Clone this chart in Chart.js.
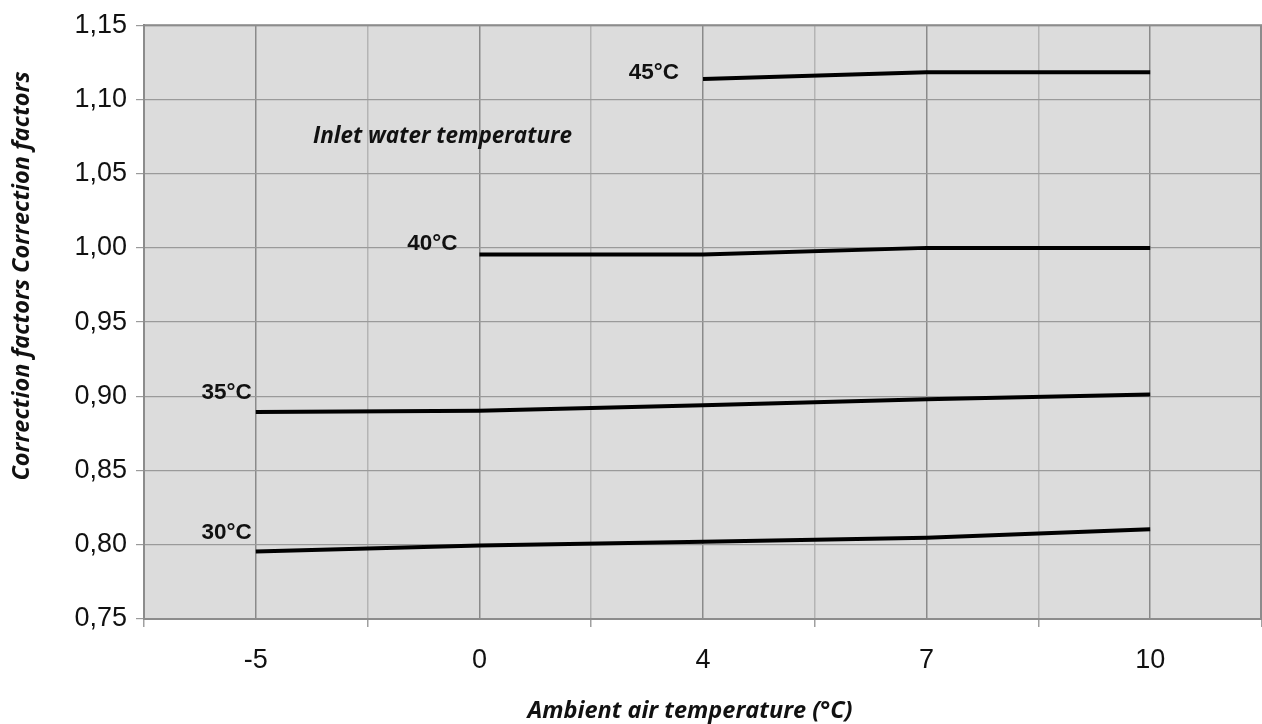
<!DOCTYPE html>
<html>
<head>
<meta charset="utf-8">
<script src="https://cdn.jsdelivr.net/npm/chart.js@4"></script>
<style>
html,body{margin:0;padding:0;background:#fff;overflow:hidden;}
#wrap{width:1262px;height:724px;position:relative;}
canvas{display:block;}
</style>
</head>
<body>
<div id="wrap"><canvas id="c"></canvas></div>
<script>
// ---- data ----
const categories = ['-5', '0', '4', '7', '10'];
const series30 = [0.7955, 0.7995, 0.802, 0.8047, 0.8105];
const series35 = [0.8895, 0.8902, 0.894, 0.898, 0.9013];
const series40 = [null, 0.9955, 0.9955, 1.000, 1.000];
const series45 = [null, null, 1.1138, 1.1183, 1.1183];
const seriesNames = ['30°C', '35°C', '40°C', '45°C'];
const yTickValues = [0.75, 0.80, 0.85, 0.90, 0.95, 1.00, 1.05, 1.10, 1.15];
// label anchors in data units (category index, factor value)
const labelTexts = ['45°C', '40°C', '35°C', '30°C'];
const labelX = [1.78, 0.79, -0.13, -0.13];
const labelY = [1.118, 1.0027, 0.9027, 0.808];
const noteText = 'Inlet water temperature';
const noteX = 0.835;
const noteY = 1.075;
const yTitle = 'Correction factors Correction factors';
const xTitle = 'Ambient air temperature (°C)';

function toPoints(arr){
  const pts = [];
  arr.forEach((v,i)=>{ if(v!==null) pts.push({x:i, y:v}); });
  return pts;
}
const allSeries = [series30, series35, series40, series45];

const decor = {
  id:'decor',
  beforeDraw(chart){
    const {ctx, chartArea:a} = chart;
    ctx.save();
    ctx.fillStyle = '#fff';
    ctx.fillRect(0,0,chart.width,chart.height);
    ctx.fillStyle = '#dcdcdc';
    ctx.fillRect(a.left, a.top, a.right-a.left, a.bottom-a.top);
    ctx.restore();
  },
  beforeDatasetsDraw(chart){
    const {ctx, chartArea:a} = chart;
    ctx.save();
    ctx.strokeStyle = '#8c8c8c';
    ctx.lineWidth = 2;
    ctx.strokeRect(a.left, a.top, a.right-a.left-1, a.bottom-a.top);
    ctx.restore();
  },
  afterDatasetsDraw(chart){
    const {ctx} = chart;
    const xs = chart.scales.x, ys = chart.scales.y;
    ctx.save();
    ctx.fillStyle = '#111';
    ctx.textAlign = 'center';
    ctx.textBaseline = 'middle';
    ctx.font = 'bold 22.5px "Liberation Sans", Arial, sans-serif';
    labelTexts.forEach((t,i)=>{
      ctx.fillText(t, xs.getPixelForValue(labelX[i]), ys.getPixelForValue(labelY[i]));
    });
    ctx.font = 'italic bold 22.5px "Open Sans", sans-serif';
    ctx.fillText(noteText, xs.getPixelForValue(noteX), ys.getPixelForValue(noteY));
    // axis titles
    ctx.font = 'italic bold 23.5px "Open Sans", sans-serif';
    ctx.fillText(xTitle, 690, 711);
    ctx.translate(22, 276);
    ctx.rotate(-Math.PI/2);
    ctx.fillText(yTitle, 0, 0);
    ctx.restore();
  }
};

new Chart(document.getElementById('c'), {
  type:'line',
  data:{
    datasets: allSeries.map((s,i)=>({
      label: seriesNames[i],
      data: toPoints(s),
      borderColor:'#000',
      borderWidth:4,
      pointRadius:0,
      tension:0,
      fill:false
    }))
  },
  options:{
    responsive:true,
    maintainAspectRatio:false,
    animation:false,
    layout:{padding:{top:25, right:0, left:0, bottom:0}},
    plugins:{legend:{display:false}, tooltip:{enabled:false}},
    scales:{
      x:{
        type:'linear',
        min:-0.5, max:categories.length-0.5,
        afterBuildTicks(scale){
          const t=[];
          for(let v=-0.5; v<=categories.length-0.5+1e-9; v+=0.5) t.push({value:v});
          scale.ticks=t;
        },
        afterFit(scale){ scale.height = 105; scale.paddingLeft = 0; scale.paddingRight = 0; },
        grid:{
          color:(c)=> (c.tick && Number.isInteger(c.tick.value)) ? '#8a8a8a' : '#b4b4b4',
          tickColor:(c)=> (c.tick && Number.isInteger(c.tick.value)) ? 'rgba(0,0,0,0)' : '#a0a0a0',
          tickLength:8,
          lineWidth:1.5
        },
        border:{display:true, color:'#707070', width:2},
        ticks:{
          autoSkip:false, maxRotation:0, padding:17,
          color:'#111',
          font:{family:'"Liberation Sans", Arial, sans-serif', size:27},
          callback:(v)=> Number.isInteger(v) ? categories[v] : ''
        }
      },
      y:{
        min:yTickValues[0], max:yTickValues[yTickValues.length-1],
        afterBuildTicks(scale){ scale.ticks = yTickValues.map(v=>({value:v})); },
        afterFit(scale){ scale.width = 144; },
        grid:{color:'#9a9a9a', tickColor:'#9a9a9a', tickLength:8, lineWidth:1.2},
        border:{display:true, color:'#707070', width:2},
        ticks:{
          padding:9,
          color:'#111',
          font:{family:'"Liberation Sans", Arial, sans-serif', size:27},
          callback:(v)=> Number(v).toFixed(2).replace('.', ',')
        }
      }
    }
  },
  plugins:[decor]
});
</script>
</body>
</html>
